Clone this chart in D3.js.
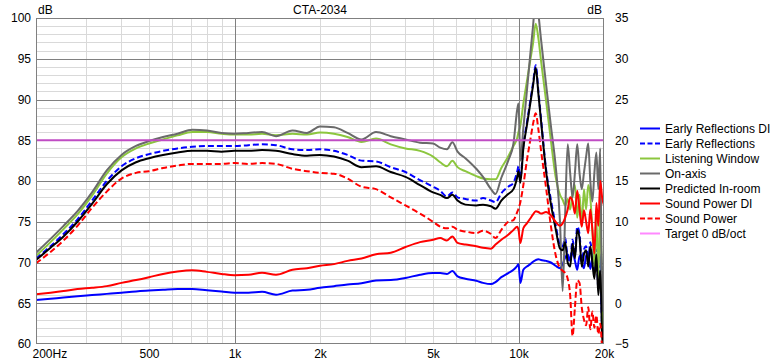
<!DOCTYPE html>
<html><head><meta charset="utf-8">
<script src="https://cdn.jsdelivr.net/npm/d3@7"></script>
<style>body{margin:0;background:#fff}svg{display:block;font-family:"Liberation Sans",Arial,sans-serif}</style>
</head><body><svg id="c" width="780" height="360"></svg>
<script>
// ---- data ----
const freqs = [200,225,250,280,315,355,400,450,500,560,630,710,800,900,1000,
  1120,1250,1400,1600,1800,2000,2240,2500,2800,3150,3550,4000,4500,5000,
  5300,5600,5850,6100,6500,7100,7500,8000,8300,8700,9200,9600,9900,
  10000,10150,10400,10700,11000,11250,11500,11750,12000,12500,13000,
  13500,14000,14300,14600,14900,15200,15500,15800,16100,16400,16700,17000,17300,17600,17900,18200,18500,18800,19100,19400,19700,20000];

const onAxis = [71.2,72.9,74.5,76.3,78.6,81.3,83.2,84.3,84.9,85.4,85.8,86.3,86.2,85.9,85.8,
  85.9,86.0,85.5,86.2,85.9,86.7,86.6,85.9,85.1,86.0,85.5,85.1,84.7,84.6,
  84.1,83.9,84.75,83.6,82.8,81.5,80.5,79.0,78.4,80.4,82.5,84.6,88.8,
  89.5,82.5,86.5,91.0,95.5,99.0,102.5,100.5,97.4,91.9,86.8,
  82.0,75.0,66.5,76.0,84.5,81.0,78.0,81.0,84.5,81.0,79.0,81.0,83.0,84.6,80.0,77.5,81.0,83.5,79.0,84.0,64.0,72.0];

const listeningWindow = [70.8,72.5,74.1,75.9,78.2,80.9,82.9,84.0,84.6,85.1,85.6,86.0,86.0,85.8,85.7,
  85.7,85.8,85.6,85.8,85.7,85.95,85.8,85.4,84.8,85.2,84.5,84.0,83.7,83.0,
  82.3,81.8,82.5,81.7,81.2,80.6,80.3,80.2,80.2,81.6,83.0,84.3,85.3,
  86.0,86.8,89.5,92.2,94.8,96.9,99.3,97.5,94.8,89.9,85.0,
  80.6,78.3,77.7,77.0,77.8,76.5,78.5,79.5,75.5,78.3,74.5,79.0,76.5,79.5,78.0,74.0,69.5,75.5,68.0,77.0,65.0,60.5];

const earlyReflections = [70.5,72.0,73.5,75.3,77.6,80.0,81.8,82.8,83.3,83.7,84.0,84.2,84.3,84.3,84.3,
  84.4,84.5,84.4,83.9,83.8,83.9,83.7,83.2,82.5,82.4,81.7,81.1,80.1,79.3,
  78.8,78.1,78.6,78.0,77.8,77.6,77.9,77.6,77.4,78.5,79.3,79.8,81.2,
  81.8,80.4,84.3,87.1,89.8,92.0,94.2,91.0,87.7,81.5,77.7,
  74.7,72.2,72.0,73.0,70.6,70.2,72.8,71.0,74.4,73.5,70.2,71.6,72.0,70.2,72.5,70.6,68.7,71.6,66.8,69.7,62.0,60.0];

const predictedInRoom = [70.3,71.8,73.2,75.0,77.2,79.6,81.3,82.3,82.8,83.2,83.5,83.7,83.7,83.6,83.7,
  83.7,83.8,83.7,83.3,83.1,83.2,83.0,82.5,81.7,81.8,81.1,80.5,79.5,78.6,
  78.3,77.9,78.3,77.6,77.1,77.0,77.1,76.9,76.6,77.6,78.4,79.0,80.5,
  81.2,79.8,84.0,86.8,89.5,91.7,93.9,90.7,87.4,81.2,77.2,
  74.2,71.7,71.5,72.5,70.0,69.5,72.3,70.5,74.0,73.0,69.5,71.0,71.5,69.5,72.0,70.0,68.0,71.0,66.0,69.0,61.0,59.0];

const soundPower = [69.9,71.3,72.7,74.5,76.7,78.7,80.3,81.0,81.2,81.6,81.9,82.1,82.1,82.1,82.2,
  82.1,82.2,82.1,81.5,81.2,81.0,80.9,80.3,79.3,79.0,78.0,77.0,76.0,75.0,
  74.4,74.2,74.4,74.0,73.8,73.6,73.9,73.5,73.0,74.0,75.0,75.2,76.2,
  76.6,77.4,79.5,82.5,85.0,87.0,88.3,86.3,83.8,79.2,74.5,
  71.0,69.3,69.0,68.7,68.0,66.0,61.0,64.5,67.8,67.5,64.5,63.0,62.3,64.5,61.8,64.0,62.0,63.5,61.2,62.5,59.5,58.0];

const soundPowerDI = [66.1,66.3,66.5,66.75,66.9,67.1,67.5,67.85,68.2,68.6,68.9,69.05,68.85,68.6,68.45,
  68.5,68.75,68.5,69.1,69.3,69.6,69.8,70.2,70.5,71.0,71.2,71.9,72.5,72.8,
  73.0,72.7,73.2,72.4,72.2,72.0,71.8,71.7,72.2,72.8,73.4,74.0,74.4,
  74.0,72.4,74.2,74.8,75.4,75.9,76.3,76.2,76.0,76.2,75.8,
  75.0,74.5,74.8,75.5,76.5,78.0,77.5,76.0,78.8,76.5,74.4,76.4,75.0,73.6,76.5,74.0,71.1,77.3,74.5,80.0,78.0,77.0];

const earlyReflectionsDI = [65.4,65.55,65.7,65.85,66.0,66.15,66.3,66.45,66.55,66.65,66.75,66.75,66.6,66.45,66.3,
  66.3,66.4,66.05,66.55,66.65,66.9,67.1,67.3,67.45,67.8,67.85,68.1,68.5,68.7,
  68.7,68.6,68.95,68.3,68.0,67.75,67.5,67.35,67.6,68.2,68.7,69.1,69.6,
  69.8,67.5,69.1,69.5,69.8,70.1,70.3,70.4,70.3,70.2,70.0,
  69.6,69.3,69.8,70.6,71.0,70.3,71.3,70.2,69.1,70.8,70.0,69.3,70.8,71.1,69.2,70.5,71.0,69.0,71.3,70.5,63.0,71.0];

const targetFreqs = [200, 20000];
const target = [85, 85];

const seriesNames = ["Early Reflections DI","Early Reflections","Listening Window","On-axis",
  "Predicted In-room","Sound Power DI","Sound Power","Target 0 dB/oct"];

const xTicks = [200,500,1000,2000,5000,10000,20000];
const xTickLabels = ["200Hz","500","1k","2k","5k","10k","20k"];
const xMinorTicks = [300,400,500,600,700,800,900,2000,3000,4000,5000,6000,7000,8000,9000];
const xMajorTicks = [1000,10000];
const yTicksLeft = [60,65,70,75,80,85,90,95,100];
const yTicksRight = [-5,0,5,10,15,20,25,30,35];

// ---- layout ----
const L=36, R=604, T=18, B=344;
const svg = d3.select("#c");
svg.append("rect").attr("width",780).attr("height",360).attr("fill","#fff");

const x = d3.scaleLog().domain([200,20000]).range([L,R]);
const y = d3.scaleLinear().domain([60,100]).range([B,T]);
const yR = d3.scaleLinear().domain([-5,35]).range([B,T]);

const minorCol = "#d9d9d9", majorCol = "#808080";
const g = svg.append("g");
g.selectAll(".xm").data(xMinorTicks).enter().append("line")
  .attr("x1",d=>Math.round(x(d))+0.5).attr("x2",d=>Math.round(x(d))+0.5)
  .attr("y1",T).attr("y2",B).attr("stroke",minorCol).attr("stroke-width",1);
const yMinor = d3.range(61,100).filter(v=>v%5!==0);
g.selectAll(".ym").data(yMinor).enter().append("line")
  .attr("x1",L).attr("x2",R)
  .attr("y1",d=>Math.round(y(d))+0.5).attr("y2",d=>Math.round(y(d))+0.5)
  .attr("stroke",minorCol);
g.selectAll(".xM").data(xMajorTicks).enter().append("line")
  .attr("x1",d=>Math.round(x(d))+0.5).attr("x2",d=>Math.round(x(d))+0.5)
  .attr("y1",T).attr("y2",B).attr("stroke",majorCol);
g.selectAll(".yM").data([65,70,75,80,85,90,95]).enter().append("line")
  .attr("x1",L).attr("x2",R)
  .attr("y1",d=>Math.round(y(d))+0.5).attr("y2",d=>Math.round(y(d))+0.5)
  .attr("stroke",majorCol);

svg.append("clipPath").attr("id","clip").append("rect")
  .attr("x",L).attr("y",T).attr("width",R-L).attr("height",B-T);

const series = [
  {name:seriesNames[0], vals:earlyReflectionsDI, col:"#0000ff", dash:null},
  {name:seriesNames[1], vals:earlyReflections, col:"#0000ff", dash:"6,3"},
  {name:seriesNames[2], vals:listeningWindow, col:"#8cc63e", dash:null},
  {name:seriesNames[3], vals:onAxis, col:"#6a6a6a", dash:null},
  {name:seriesNames[4], vals:predictedInRoom, col:"#000000", dash:null},
  {name:seriesNames[5], vals:soundPowerDI, col:"#ff0000", dash:null},
  {name:seriesNames[6], vals:soundPower, col:"#ff0000", dash:"6,3"}
];

const line = d3.line().x(d=>x(d[0])).y(d=>y(d[1])).curve(d3.curveMonotoneX);
const plot = svg.append("g").attr("clip-path","url(#clip)");
series.forEach(s=>{
  plot.append("path").datum(freqs.map((f,i)=>[f,s.vals[i]]))
    .attr("d",line).attr("fill","none").attr("stroke",s.col)
    .attr("stroke-width",2).attr("stroke-linejoin","round")
    .attr("stroke-dasharray",s.dash);
});
plot.append("path").datum(targetFreqs.map((f,i)=>[f,target[i]]))
  .attr("d",d3.line().x(d=>x(d[0])).y(d=>y(d[1]))).attr("fill","none")
  .attr("stroke","#c04cc4").attr("stroke-width",2);

svg.append("rect").attr("x",L+0.5).attr("y",T+0.5).attr("width",R-L-1).attr("height",B-T-1)
  .attr("fill","none").attr("stroke",majorCol);

const fs = "12px";
const ax = svg.append("g").attr("transform",`translate(${L},0)`)
  .call(d3.axisLeft(y).tickValues(yTicksLeft).tickSize(0).tickPadding(5));
const axR = svg.append("g").attr("transform",`translate(${R},0)`)
  .call(d3.axisRight(yR).tickValues(yTicksRight).tickSize(0).tickPadding(11));
const axB = svg.append("g").attr("transform",`translate(0,${B})`)
  .call(d3.axisBottom(x).tickValues(xTicks).tickFormat((d,i)=>xTickLabels[i]).tickSize(0).tickPadding(5));
[ax,axR,axB].forEach(a=>{
  a.select(".domain").remove();
  a.selectAll("text").attr("fill","#000").style("font-size",fs).style("font-family","'Liberation Sans',Arial,sans-serif");
});
axB.selectAll("text").filter((d,i)=>i===0).attr("text-anchor","start").attr("x",-4);

const t = (txt,xx,yy,anchor)=>svg.append("text").attr("x",xx).attr("y",yy).attr("text-anchor",anchor)
  .style("font-size",fs).attr("fill","#000").text(txt);
t("dB",38,14,"start");
t("CTA-2034",(L+R)/2,14,"middle");
t("dB",602,14,"end");

const legendItems = series.map(s=>({name:s.name,col:s.col,dash:s.dash}))
  .concat([{name:seriesNames[7],col:"#ff88ff",dash:null}]);
const lg = svg.append("g");
legendItems.forEach((it,i)=>{
  const yy = 128.5 + i*15;
  lg.append("line").attr("x1",640).attr("x2",660).attr("y1",yy).attr("y2",yy)
    .attr("stroke",it.col).attr("stroke-width",2).attr("stroke-dasharray",it.dash?"5,2.5":null);
  lg.append("text").attr("x",665).attr("y",yy).attr("dy","0.35em")
    .style("font-size",fs).attr("fill","#000").text(it.name);
});
</script></body></html>
